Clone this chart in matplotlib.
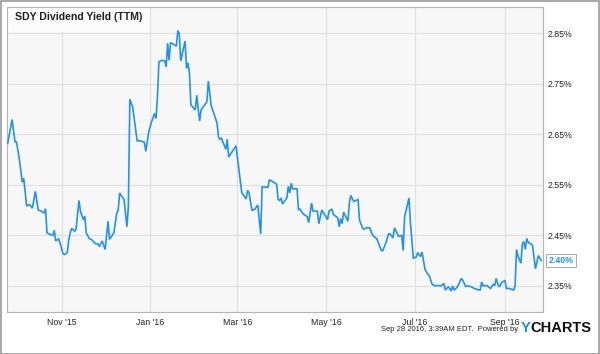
import matplotlib
matplotlib.use("Agg")
import matplotlib.pyplot as plt
from matplotlib.patches import Rectangle
import pandas as pd

# ---------------- data ----------------
origin = pd.Timestamp("2015-11-01")
# day offsets from Nov 1 2015
days = [
    -37, -34, -32, -31, -29, -27, -26, -24, -22, -20,
    -18, -16, -14, -12, -11, -10, -8, -6, -5, -4,
    -2, -1, 1, 2, 4, 5, 6, 7, 9, 10,
    12, 13, 15, 16, 17, 19, 21, 23, 25, 26,
    28, 30, 32, 33, 36, 38, 39, 40, 41, 43,
    45, 46, 47, 49, 52, 54, 57, 58, 60, 62,
    64, 65, 66, 67, 69, 71, 72, 73, 74, 75,
    77, 79, 80, 81, 82, 85, 86, 87, 88, 89,
    92, 93, 95, 96, 100, 101, 103, 107, 108, 109,
    110, 113, 114, 115, 118, 120, 122, 124, 127, 128,
    129, 131, 133, 135, 137, 138, 142, 143, 146, 148,
    149, 150, 151, 152, 155, 156, 157, 158, 159, 162,
    163, 164, 166, 169, 170, 172, 173, 176, 177, 179,
    181, 183, 184, 186, 187, 190, 191, 192, 193, 194,
    197, 198, 199, 201, 204, 205, 207, 208, 210, 212,
    214, 217, 218, 220, 221, 223, 225, 226, 228, 229,
    231, 232, 234, 235, 236, 238, 239, 240, 242, 244,
    245, 247, 248, 250, 252, 253, 255, 257, 259, 261,
    263, 264, 266, 267, 268, 269, 270, 272, 273, 275,
    276, 278, 280, 282, 284, 287, 288, 289, 290, 291,
    293, 295, 297, 298, 299, 300, 301, 303, 305, 306,
    308, 311, 312, 313, 314, 316, 317, 318, 319, 320,
    321, 323, 324, 326, 328, 330,
]
yield_pct = [
    2.632, 2.679, 2.635, 2.635, 2.600, 2.555, 2.563, 2.508, 2.511, 2.504,
    2.537, 2.500, 2.498, 2.494, 2.503, 2.455, 2.452, 2.450, 2.460, 2.439,
    2.443, 2.435, 2.414, 2.412, 2.416, 2.442, 2.455, 2.464, 2.458, 2.462,
    2.519, 2.498, 2.481, 2.488, 2.455, 2.444, 2.441, 2.434, 2.433, 2.428,
    2.439, 2.422, 2.478, 2.442, 2.455, 2.494, 2.500, 2.534, 2.529, 2.521,
    2.467, 2.508, 2.719, 2.703, 2.637, 2.637, 2.634, 2.616, 2.655, 2.675,
    2.691, 2.681, 2.724, 2.793, 2.796, 2.795, 2.783, 2.830, 2.796, 2.831,
    2.828, 2.824, 2.855, 2.849, 2.795, 2.834, 2.780, 2.791, 2.771, 2.708,
    2.698, 2.727, 2.676, 2.698, 2.714, 2.755, 2.706, 2.672, 2.644, 2.640,
    2.642, 2.620, 2.640, 2.605, 2.618, 2.627, 2.581, 2.534, 2.522, 2.539,
    2.534, 2.499, 2.502, 2.510, 2.453, 2.546, 2.545, 2.560, 2.555, 2.551,
    2.521, 2.519, 2.524, 2.512, 2.524, 2.547, 2.534, 2.553, 2.542, 2.542,
    2.501, 2.502, 2.493, 2.487, 2.475, 2.514, 2.498, 2.498, 2.473, 2.500,
    2.491, 2.481, 2.498, 2.502, 2.491, 2.485, 2.467, 2.483, 2.473, 2.496,
    2.478, 2.514, 2.529, 2.517, 2.521, 2.480, 2.465, 2.462, 2.465, 2.465,
    2.450, 2.443, 2.435, 2.420, 2.420, 2.434, 2.453, 2.453, 2.445, 2.465,
    2.453, 2.448, 2.450, 2.420, 2.487, 2.511, 2.524, 2.475, 2.405, 2.407,
    2.416, 2.408, 2.417, 2.383, 2.373, 2.370, 2.353, 2.350, 2.351, 2.350,
    2.355, 2.342, 2.348, 2.345, 2.340, 2.350, 2.342, 2.347, 2.352, 2.365,
    2.361, 2.349, 2.350, 2.348, 2.345, 2.342, 2.342, 2.358, 2.350, 2.351,
    2.350, 2.345, 2.353, 2.351, 2.365, 2.355, 2.348, 2.357, 2.361, 2.345,
    2.345, 2.342, 2.350, 2.422, 2.409, 2.395, 2.433, 2.438, 2.422, 2.444,
    2.436, 2.433, 2.430, 2.384, 2.410, 2.400,
]
tick_dates = ["2015-11-01", "2016-01-01", "2016-03-01", "2016-05-01", "2016-07-01", "2016-09-01"]
tick_labels = ["Nov '15", "Jan '16", "Mar '16", "May '16", "Jul '16", "Sep '16"]
y_ticks = [2.35, 2.45, 2.55, 2.65, 2.75, 2.85]
last_label = "2.40%"
title = "SDY Dividend Yield (TTM)"
footer = "Sep 28 2016, 3:39AM EDT.  Powered by"

# ---------------- figure ----------------
plt.rcParams["font.family"] = ["Liberation Sans", "DejaVu Sans"]
W, H = 600, 354
fig = plt.figure(figsize=(W / 100, H / 100), dpi=100, facecolor="white")
ax = fig.add_axes([7 / W, 1 - 312 / H, (543 - 7) / W, (312 - 7) / H])
ax.set_facecolor("#f7f7f7")

line_color = "#2392e8"
ax.plot(days, yield_pct, color=line_color, lw=1.2, zorder=3, solid_joinstyle="miter")

ax.set_xlim(-37.5, 331.2)
ax.set_ylim(2.2985, 2.9015)

tick_pos = [(pd.Timestamp(d) - origin).days for d in tick_dates]
ax.set_xticks(tick_pos)
ax.set_xticklabels(tick_labels)
ax.set_yticks(y_ticks)
ax.set_yticklabels([f"{v:.2f}%" for v in y_ticks])
ax.yaxis.tick_right()
ax.tick_params(axis="both", length=0, labelsize=6.3, colors="#222222")
ax.tick_params(axis="x", pad=4)
ax.tick_params(axis="y", pad=3)
ax.grid(True, color="#e0e0e0", lw=0.8)
ax.set_axisbelow(True)
for s in ax.spines.values():
    s.set_color("#b5b5b5")
    s.set_linewidth(0.8)

# title box
ax.add_patch(Rectangle((0, 1 - 25 / 305), 143 / 536, 25 / 305, transform=ax.transAxes,
                       facecolor="#fcfcfc", edgecolor="none", zorder=2))
ax.text(8 / 536, 1 - 10 / 305, title, transform=ax.transAxes, fontsize=7.6,
        fontweight="bold", color="#222222", va="center", ha="left", zorder=4)

# last-value label
ax.annotate(last_label, xy=(1, yield_pct[-1]), xycoords=("axes fraction", "data"),
            xytext=(4, 0), textcoords="offset points", fontsize=6.3, fontweight="bold",
            color=line_color, va="center", ha="left", annotation_clip=False,
            bbox=dict(boxstyle="square,pad=0.25", fc="white", ec="#aaaaaa", lw=0.7), zorder=5)

# footer
fig.text(518 / W, 1 - 329.5 / H, footer, fontsize=5.5, color="#222222", ha="right", va="center")
fig.text(521 / W, 1 - 327.5 / H, "Y", fontsize=10.5, fontweight="bold", color="#1a8fe3",
         ha="left", va="center")
fig.text(530.5 / W, 1 - 327.5 / H, "CHARTS", fontsize=10.5, fontweight="bold", color="#111111",
         ha="left", va="center")

# outer frame
fig.add_artist(Rectangle((0.5 / W, 0.5 / H), 1 - 1.5 / W, 1 - 1.5 / H, transform=fig.transFigure,
                         fill=False, edgecolor="#9a9a9a", lw=1.2))

fig.savefig("out.png", dpi=100, facecolor="white")
